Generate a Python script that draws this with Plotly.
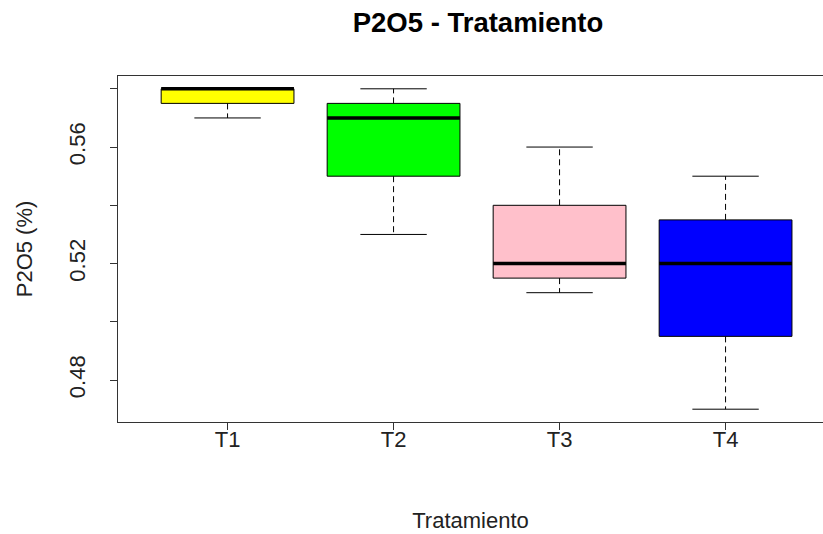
import plotly.graph_objects as go

categories = ["T1", "T2", "T3", "T4"]
positions = [1, 2, 3, 4]
lower_whisker = [0.570, 0.530, 0.510, 0.470]
q1 = [0.575, 0.550, 0.515, 0.495]
median = [0.580, 0.570, 0.520, 0.520]
q3 = [0.580, 0.575, 0.540, 0.535]
upper_whisker = [0.580, 0.580, 0.560, 0.550]
fill_colors = ["#FFFF00", "#00FF00", "#FFC0CB", "#0000FF"]
y_tick_vals = [0.48, 0.50, 0.52, 0.54, 0.56, 0.58]
y_tick_text = ["0.48", "", "0.52", "", "0.56", ""]

BOX_W = 0.8
CAP_W = 0.4
FONT = "Liberation Sans, Arial, sans-serif"

fig = go.Figure()

# boxes
fig.add_trace(go.Bar(
    x=positions, y=[b - a for a, b in zip(q1, q3)], base=q1, width=BOX_W,
    marker=dict(color=fill_colors, line=dict(color="black", width=1)),
    hoverinfo="skip", showlegend=False))

# whiskers (dashed)
wx, wy = [], []
for p, lo, a, b, hi in zip(positions, lower_whisker, q1, q3, upper_whisker):
    wx += [p, p, None, p, p, None]
    wy += [b, hi, None, a, lo, None]
fig.add_trace(go.Scatter(x=wx, y=wy, mode="lines",
                         line=dict(color="black", width=1, dash="6px,4px"),
                         hoverinfo="skip", showlegend=False))

# caps
cx, cy = [], []
for p, lo, hi in zip(positions, lower_whisker, upper_whisker):
    cx += [p - CAP_W / 2, p + CAP_W / 2, None, p - CAP_W / 2, p + CAP_W / 2, None]
    cy += [hi, hi, None, lo, lo, None]
fig.add_trace(go.Scatter(x=cx, y=cy, mode="lines",
                         line=dict(color="black", width=1),
                         hoverinfo="skip", showlegend=False))

# medians
mx, my = [], []
for p, m in zip(positions, median):
    mx += [p - BOX_W / 2, p + BOX_W / 2, None]
    my += [m, m, None]
fig.add_trace(go.Scatter(x=mx, y=my, mode="lines",
                         line=dict(color="black", width=3.5),
                         hoverinfo="skip", showlegend=False))

W, H = 823, 534
L, R, T, B = 118, 0, 76, 112
px_per_unit = 166.0
x0 = 0.34
x1 = x0 + (W - L - R) / px_per_unit

fig.update_layout(
    width=W, height=H,
    margin=dict(l=L, r=R, t=T, b=B),
    paper_bgcolor="white", plot_bgcolor="white",
    font=dict(family=FONT, size=22, color="#222222"),
    title=dict(text="<b>P2O5 - Tratamiento</b>", x=478 / W, xanchor="center",
               xref="container", y=1 - 22 / H, yanchor="middle",
               font=dict(family=FONT, size=27.5, color="black")),
    xaxis=dict(range=[x0, x1], tickvals=positions, ticktext=categories,
               showgrid=False, zeroline=False, showline=True, mirror=True,
               linecolor="#333333", linewidth=1, ticks="outside", ticklen=7,
               tickcolor="#333333", tickwidth=1, tickfont=dict(size=22),
               ticklabelstandoff=-9,
               title=dict(text="Tratamiento", standoff=61, font=dict(size=22))),
    yaxis=dict(range=[0.4656, 0.5844], tickvals=y_tick_vals, ticktext=y_tick_text,
               showgrid=False, zeroline=False, showline=True, mirror=False,
               linecolor="#333333", linewidth=1, ticks="outside", ticklen=7,
               tickcolor="#333333", tickwidth=1, tickangle=-90,
               tickfont=dict(size=22), ticklabelstandoff=16,
               title=dict(text="P2O5 (%)", standoff=26, font=dict(size=22))),
)

fig.write_html("out.html", config={"displayModeBar": False},
               post_script="document.body.style.margin='0';")
